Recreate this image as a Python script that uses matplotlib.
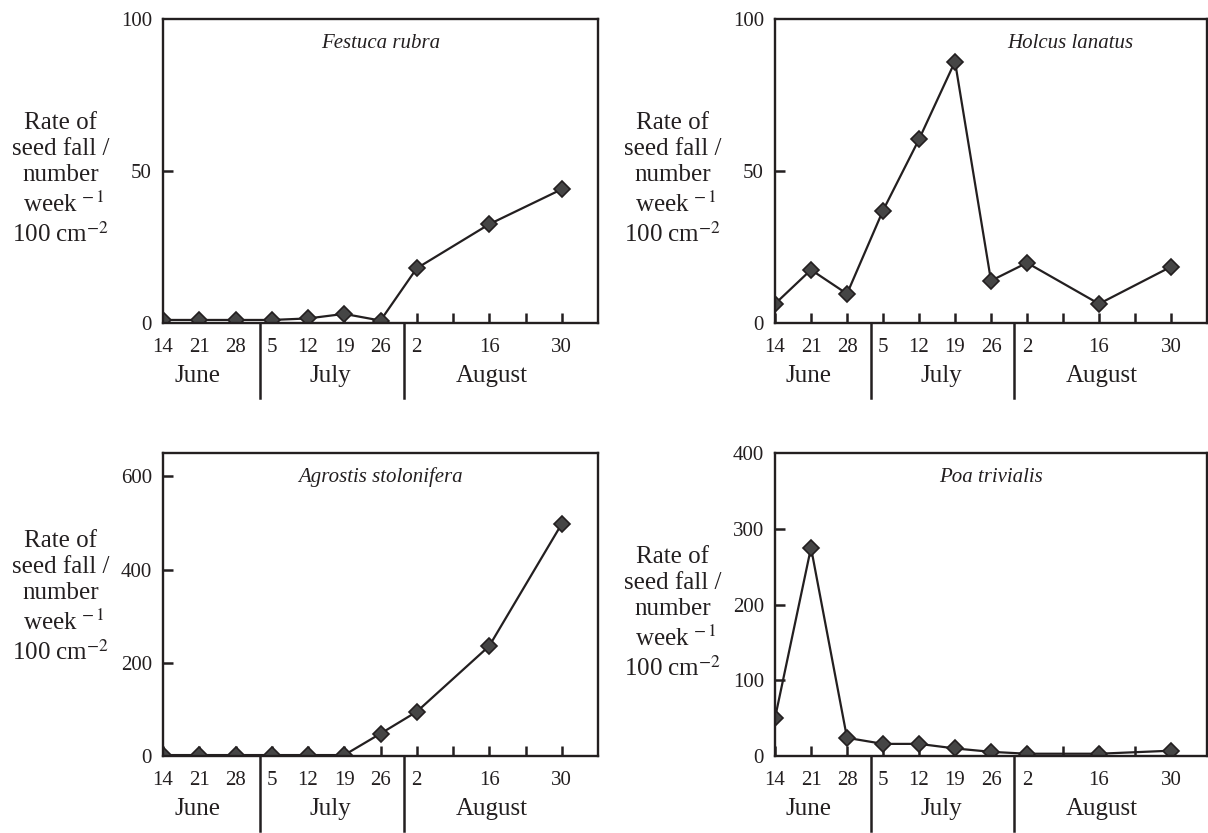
import matplotlib
matplotlib.use("Agg")
import matplotlib.pyplot as plt
import matplotlib.transforms as mtransforms

plt.rcParams['font.family'] = ['Liberation Serif', 'DejaVu Serif']
plt.rcParams['mathtext.fontset'] = 'stix'

INK = "#231f20"

# days after 14 June, one sample a week (no samples on 9 and 23 August)
days = [0, 7, 14, 21, 28, 35, 42, 49, 63, 77]
week_ticks = [0, 7, 14, 21, 28, 35, 42, 49, 56, 63, 70, 77]
week_labels = ["14", "21", "28", "5", "12", "19", "26", "2", "", "16", "", "30"]
months = ["June", "July", "August"]
month_pos = [6.6, 32.4, 63.5]
month_breaks = [18.7, 46.5]

species = ["Festuca rubra", "Holcus lanatus", "Agrostis stolonifera", "Poa trivialis"]
festuca = [1, 1, 1, 1, 1.5, 3, 0.8, 18, 32.5, 44]
holcus = [6.3, 17.5, 9.6, 37, 60.4, 86, 13.9, 19.8, 6.3, 18.5]
agrostis = [2, 2, 2, 2, 2, 2, 48, 95, 236, 498]
poa = [50, 275, 24, 16, 16, 10, 5.5, 3, 3, 7]
series = [festuca, holcus, agrostis, poa]

ylims = [100, 100, 650, 400]
yticks_in = [[50], [50], [200, 400, 600], [100, 200, 300]]
ylabels_shown = [[0, 50, 100], [0, 50, 100], [0, 200, 400, 600], [0, 100, 200, 300, 400]]
title_x = [0.5, 0.683, 0.5, 0.5]

ylab = "Rate of\nseed fall /\nnumber\n week$^{\\,-1}$\n100 cm$^{-2}$"

W, H = 1208, 833
fig = plt.figure(figsize=(W / 100, H / 100), dpi=100)

# axes boxes in pixels: left, top, right, bottom
boxes = [(163, 19, 598, 323), (775, 19, 1207, 323),
         (163, 453, 598, 756), (775, 453, 1207, 756)]
label_y = [179, 179, 597, 613]

for i in range(4):
    l, t, r, b = boxes[i]
    ax = fig.add_axes([l / W, 1 - b / H, (r - l) / W, (b - t) / H])
    ax.plot(days, series[i], color=INK, lw=1.6, marker="D", ms=8,
            mfc="#454545", mec=INK, mew=1.2)
    ax.set_xlim(0, 84)
    ax.set_ylim(0, ylims[i])

    for s in ax.spines.values():
        s.set_linewidth(1.7)
        s.set_color(INK)

    ax.set_xticks(week_ticks)
    ax.set_xticklabels(week_labels)
    ax.tick_params(axis="x", direction="in", length=7, width=1.8, pad=11,
                   labelsize=15, colors=INK)

    # inner y ticks, labels also at the ends
    ax.set_yticks(ylabels_shown[i])
    ax.set_yticklabels([str(v) for v in ylabels_shown[i]])
    ax.tick_params(axis="y", direction="in", length=7, width=1.8, pad=8,
                   labelsize=15, colors=INK)
    for tk, v in zip(ax.yaxis.get_major_ticks(), ylabels_shown[i]):
        if v not in yticks_in[i]:
            tk.tick1line.set_visible(False)

    ax.text(title_x[i], 1 - 24 / (b - t), species[i], transform=ax.transAxes,
            ha="center", va="center", style="italic", fontsize=15, color=INK)

    # month bands under the axis
    trans = mtransforms.blended_transform_factory(ax.transData, ax.transAxes)
    for xb in month_breaks:
        ax.plot([xb, xb], [0, -75 / (b - t)], color=INK, lw=1.8,
                transform=trans, clip_on=False)
    for name, xm in zip(months, month_pos):
        ax.text(xm, -53 / (b - t), name, transform=trans, ha="center",
                va="center", fontsize=18, color=INK)

    fig.text((l - 102) / W, 1 - label_y[i] / H, ylab, ha="center", va="center",
             multialignment="center", fontsize=18, color=INK, linespacing=1.25)

fig.savefig("out.png", dpi=100)
